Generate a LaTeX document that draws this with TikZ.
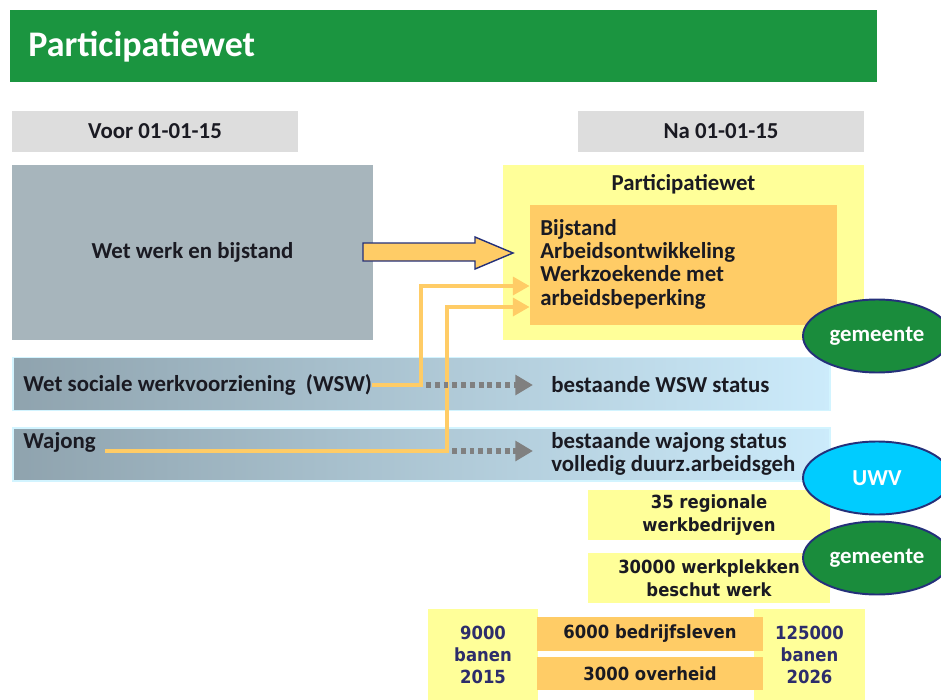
\documentclass[tikz,border=0pt]{standalone}
\usepackage{fontspec}
\setmainfont{Carlito}
\newfontfamily\verfont[FakeStretch=0.91]{DejaVu Sans}
\usetikzlibrary{arrows.meta,shapes.geometric}
\definecolor{kopgroen}{HTML}{1B9540}
\definecolor{datumgrijs}{HTML}{DDDDDD}
\definecolor{wwbgrijs}{HTML}{A7B5BC}
\definecolor{geel}{HTML}{FFFF99}
\definecolor{oranje}{HTML}{FFCC66}
\definecolor{randblauw}{HTML}{24307A}
\definecolor{bandlinks}{HTML}{8FA3AE}
\definecolor{bandmidden}{HTML}{B4CCDA}
\definecolor{bandrechts}{HTML}{CCEBFB}
\definecolor{bandrand}{HTML}{D2F4FF}
\definecolor{stipgrijs}{HTML}{808080}
\definecolor{gemgroen}{HTML}{1A8C3C}
\definecolor{uwvblauw}{HTML}{00CCFF}
\definecolor{tekst}{HTML}{1A1A22}
\definecolor{banentekst}{HTML}{2D2D6B}
\tikzset{
  datum/.style={fill=datumgrijs, minimum width=5.72cm, minimum height=0.82cm, inner sep=0},
  band/.style={left color=bandlinks, middle color=bandmidden, right color=bandrechts, draw=bandrand, line width=0.8pt,
    minimum width=16.34cm, minimum height=1.06cm, inner sep=0},
  vak/.style={fill=geel, minimum width=4.84cm, minimum height=1cm, inner sep=0, align=center,
    text=tekst, font=\verfont\bfseries\fontsize{10.3}{13}\selectfont},
  banen/.style={fill=geel, minimum height=1.82cm, inner sep=0, align=center,
    text=banentekst, font=\verfont\bfseries\fontsize{10.3}{12.5}\selectfont},
  aantal/.style={fill=oranje, minimum width=4.52cm, inner sep=0,
    text=tekst, font=\verfont\bfseries\fontsize{10.3}{13}\selectfont},
  rond/.style={ellipse, draw=randblauw, line width=1.1pt, minimum width=2.96cm,
    minimum height=1.46cm, inner sep=0, text=white},
  conn/.style={draw=oranje, line width=2.8pt, -{Triangle[length=9.5pt,width=10pt]}},
  stip/.style={draw=stipgrijs, line width=3.4pt, dash pattern=on 2.8pt off 2.2pt,
    -{Triangle[length=10pt,width=11pt]}},
}
\begin{document}
\begin{tikzpicture}[x=0.02cm, y=-0.02cm, text=tekst, font=\bfseries\fontsize{13}{13.3}\selectfont]
\useasboundingbox (0,0) rectangle (941,700);
% kop
\node[fill=kopgroen, minimum width=17.34cm, minimum height=1.44cm, inner sep=0] (kop) at (443.5,46) {};
\node[anchor=west, inner sep=0, text=white, font=\bfseries\fontsize{20.5}{24}\selectfont] (koptekst) at (28,47) {Participatiewet};
\node[datum] (voor) at (155,131.5) {Voor 01-01-15};
\node[datum] (na) at (721,131.5) {Na 01-01-15};
% links en rechts
\node[fill=wwbgrijs, minimum width=7.22cm, minimum height=3.5cm] (wwb) at (192.5,252.5) {Wet werk en bijstand};
\node[fill=geel, minimum width=7.22cm, minimum height=3.5cm] (pw) at (683.5,252.5) {};
\node (pwtitel) at (683.5,184) {Participatiewet};
\node[fill=oranje, minimum width=6.14cm, minimum height=2.4cm] (taken) at (683.5,265) {};
\node[anchor=west, align=left, inner sep=0] (takentekst) at (540,264) {Bijstand\\Arbeidsontwikkeling\\Werkzoekende met\\arbeidsbeperking};
\filldraw[fill=oranje, draw=randblauw, line width=0.8pt] (363,243) -- (475,243) -- (475,237) -- (513,253)
  -- (475,269) -- (475,261) -- (363,261) -- cycle;
% banden
\node[band] (wswband) at (421.5,384) {};
\node[band] (wajongband) at (421.5,454.5) {};
\node[anchor=west, inner sep=0] (wswtekst) at (23,385) {Wet sociale werkvoorziening~ (WSW)};
\node[anchor=west, inner sep=0] (wswstatus) at (551,385) {bestaande WSW status};
\node[anchor=west, inner sep=0] (wajong) at (23,442) {Wajong};
\node[anchor=west, align=left, inner sep=0] (wajongstatus) at (551,454) {bestaande wajong status\\volledig duurz.arbeidsgeh};
% pijlen
\coordinate (wswknik) at (421,286);
\coordinate (wjstart) at (105,451);
\coordinate (wjknik) at (447,307);
\draw[conn] (wswtekst.east) -| (wswknik) -- (wswknik -| taken.west);
\draw[conn] (wjstart) -| (wjknik) -- (wjknik -| taken.west);
\coordinate (wswstip) at (426,385);
\coordinate (wswdoel) at (533,385);
\coordinate (wjstip) at (452,451);
\coordinate (wjdoel) at (533,451);
\draw[stip] (wswstip) -- (wswdoel);
\draw[stip] (wjstip) -- (wjdoel);
% onder
\node[vak] (regio) at (709,515) {35 regionale\\werkbedrijven};
\node[vak] (beschut) at (709,578) {30000 werkplekken\\beschut werk};
\node[banen, minimum width=2.2cm] (b2015) at (483,654.5) {9000\\banen\\2015};
\node[banen, minimum width=2.22cm] (b2026) at (809.5,654.5) {125000\\banen\\2026};
\node[aantal, minimum height=0.68cm] (bedrijf) at (650,634) {6000 bedrijfsleven};
\node[aantal, minimum height=0.66cm] (overheid) at (650,673.5) {3000 overheid};
% ellipsen
\node[rond, fill=gemgroen] (gem1) at (877,336) {gemeente};
\node[rond, fill=uwvblauw] (uwv) at (877,478) {UWV};
\node[rond, fill=gemgroen] (gem2) at (877,558) {gemeente};
\end{tikzpicture}
\end{document}
